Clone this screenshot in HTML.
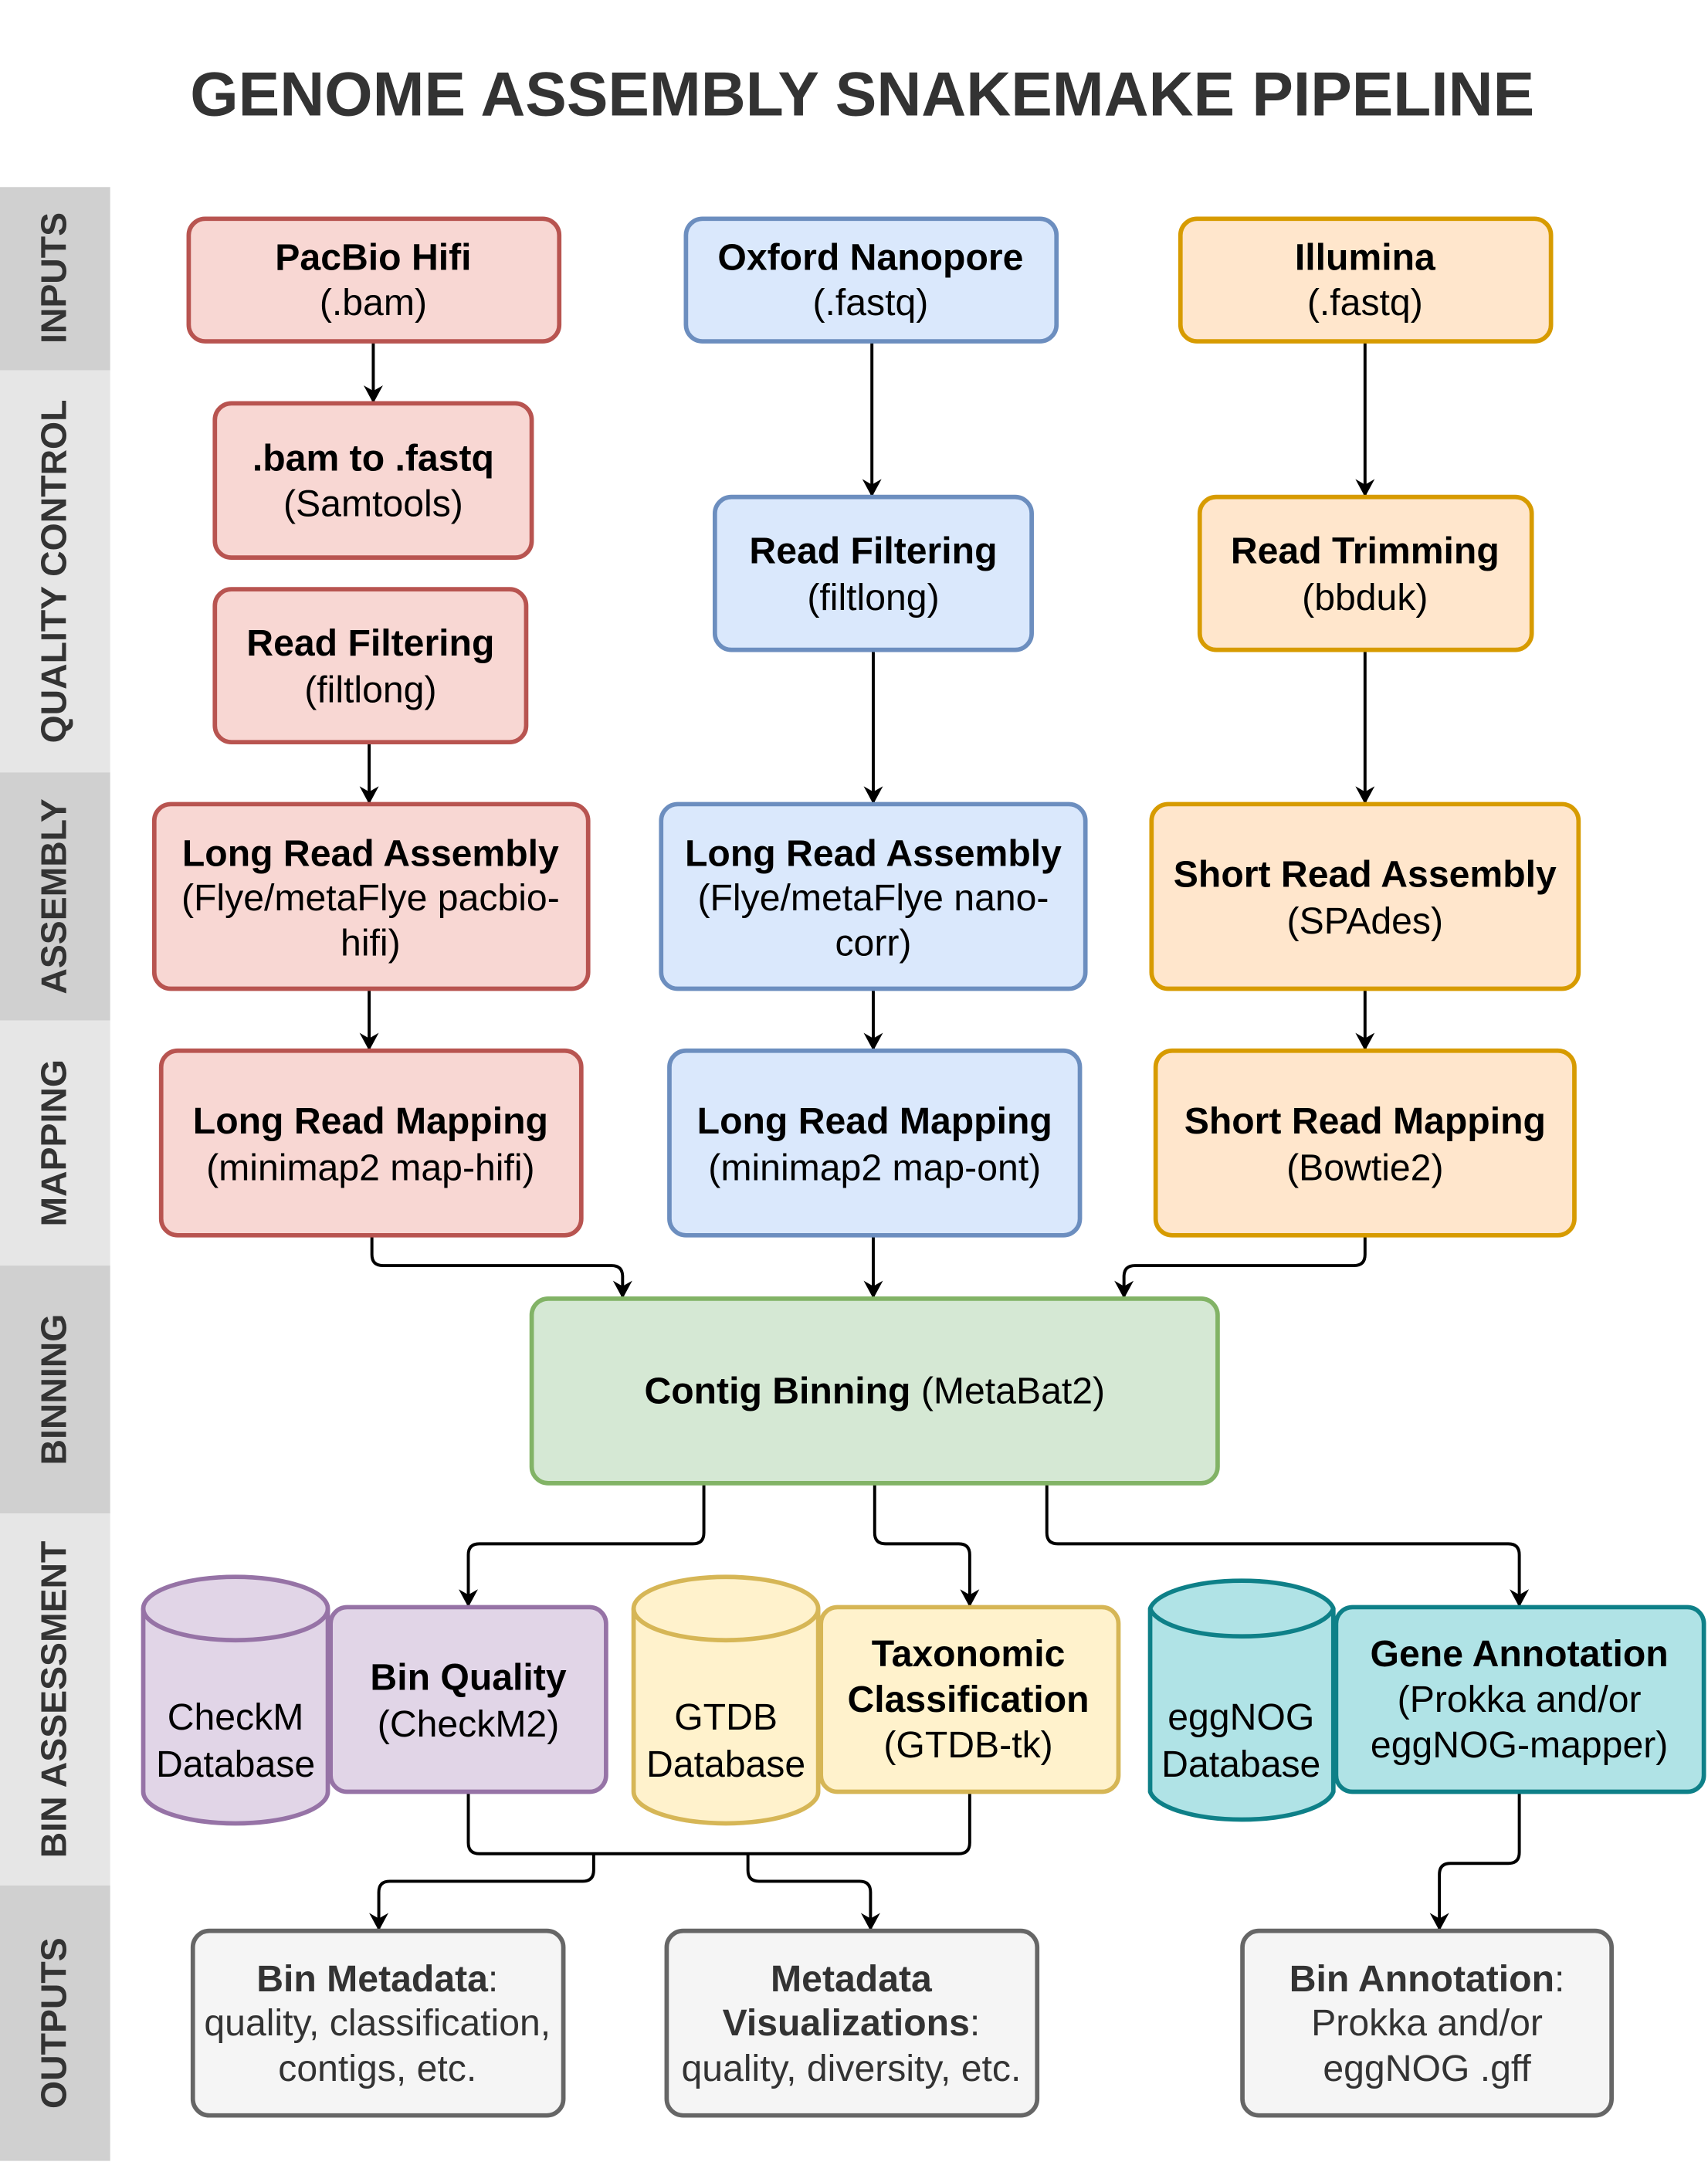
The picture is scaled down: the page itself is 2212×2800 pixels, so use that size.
<!DOCTYPE html>
<html><head><meta charset="utf-8"><style>
html,body{margin:0;padding:0;background:#fff;}
svg{display:block;}
text{font-family:"Liberation Sans",Arial,sans-serif;}
</style></head><body>
<svg width="2212" height="2800" viewBox="0 0 1240 1568" xmlns="http://www.w3.org/2000/svg">
<defs>
<marker id="ar" markerWidth="14" markerHeight="16" refX="12" refY="7" orient="auto" markerUnits="userSpaceOnUse">
<path d="M0,0 L13,7 L0,14 L4,7 Z" fill="#000"/>
</marker>
</defs>
<rect width="1240" height="1568" fill="#fff"/>
<text x="626" y="83" text-anchor="middle" font-size="45" font-weight="bold" fill="#333">GENOME ASSEMBLY SNAKEMAKE PIPELINE</text>

<rect x="0" y="135" width="80" height="133" fill="#d0d0d0"/>
<rect x="0" y="268" width="80" height="292" fill="#e6e6e6"/>
<rect x="0" y="560" width="80" height="180" fill="#d0d0d0"/>
<rect x="0" y="740" width="80" height="178" fill="#e6e6e6"/>
<rect x="0" y="918" width="80" height="180" fill="#d0d0d0"/>
<rect x="0" y="1098" width="80" height="270" fill="#e6e6e6"/>
<rect x="0" y="1368" width="80" height="200" fill="#d0d0d0"/>
<g font-size="26" font-weight="bold" fill="#333" text-anchor="middle">
<text transform="translate(48,201) rotate(-90)">INPUTS</text>
<text transform="translate(48,414) rotate(-90)">QUALITY CONTROL</text>
<text transform="translate(48,650) rotate(-90)">ASSEMBLY</text>
<text transform="translate(48,829) rotate(-90)">MAPPING</text>
<text transform="translate(48,1008) rotate(-90)">BINNING</text>
<text transform="translate(48,1233) rotate(-90)">BIN ASSESSMENT</text>
<text transform="translate(48,1468) rotate(-90)">OUTPUTS</text>
</g>

<g stroke="#000" stroke-width="2.2" fill="none" marker-end="url(#ar)">
<path d="M271 247 V291"/>
<path d="M633 247 V359"/>
<path d="M991 247 V359"/>
<path d="M268 538 V582"/>
<path d="M634 471 V582"/>
<path d="M991 471 V582"/>
<path d="M268 717 V761"/>
<path d="M634 717 V761"/>
<path d="M991 717 V761"/>
<path d="M270 896 V910 Q270 918 278 918 H444 Q452 918 452 926 V941"/>
<path d="M634 896 V941"/>
<path d="M991 896 V910 Q991 918 983 918 H824 Q816 918 816 926 V941"/>
<path d="M511 1076 V1112 Q511 1120 503 1120 H348 Q340 1120 340 1128 V1165"/>
<path d="M635 1076 V1112 Q635 1120 643 1120 H696 Q704 1120 704 1128 V1165"/>
<path d="M760 1076 V1112 Q760 1120 768 1120 H1095 Q1103 1120 1103 1128 V1165"/>
<path d="M431 1345 V1357 Q431 1365 423 1365 H283 Q275 1365 275 1373 V1400"/>
<path d="M543 1345 V1357 Q543 1365 551 1365 H624 Q632 1365 632 1373 V1400"/>
<path d="M1103 1300 V1344 Q1103 1352 1095 1352 H1053 Q1045 1352 1045 1360 V1400"/>
</g>
<path d="M340 1300 V1337 Q340 1345 348 1345 H696 Q704 1345 704 1337 V1300" stroke="#000" stroke-width="2.2" fill="none"/>

<g stroke-width="3.2">
<rect x="137" y="158" width="269" height="89" rx="12" fill="#f8d7d3" stroke="#b85450"/>
<rect x="498" y="158" width="269" height="89" rx="12" fill="#dae8fc" stroke="#6c8ebf"/>
<rect x="857" y="158" width="269" height="89" rx="12" fill="#ffe6cc" stroke="#d79b00"/>
<rect x="156" y="292" width="230" height="112" rx="12" fill="#f8d7d3" stroke="#b85450"/>
<rect x="156" y="427" width="226" height="111" rx="12" fill="#f8d7d3" stroke="#b85450"/>
<rect x="519" y="360" width="230" height="111" rx="12" fill="#dae8fc" stroke="#6c8ebf"/>
<rect x="871" y="360" width="241" height="111" rx="12" fill="#ffe6cc" stroke="#d79b00"/>
<rect x="112" y="583" width="315" height="134" rx="12" fill="#f8d7d3" stroke="#b85450"/>
<rect x="480" y="583" width="308" height="134" rx="12" fill="#dae8fc" stroke="#6c8ebf"/>
<rect x="836" y="583" width="310" height="134" rx="12" fill="#ffe6cc" stroke="#d79b00"/>
<rect x="117" y="762" width="305" height="134" rx="12" fill="#f8d7d3" stroke="#b85450"/>
<rect x="486" y="762" width="298" height="134" rx="12" fill="#dae8fc" stroke="#6c8ebf"/>
<rect x="839" y="762" width="304" height="134" rx="12" fill="#ffe6cc" stroke="#d79b00"/>
<rect x="386" y="942" width="498" height="134" rx="12" fill="#d5e8d4" stroke="#82b366"/>
<path d="M104 1167 A67 23 0 0 1 238 1167 V1300 A67 23 0 0 1 104 1300 Z" fill="#e1d5e7" stroke="#9673a6"/>
<path d="M104 1167 A67 23 0 0 0 238 1167" fill="none" stroke="#9673a6"/>
<rect x="240" y="1166" width="200" height="134" rx="12" fill="#e1d5e7" stroke="#9673a6"/>
<path d="M460 1167 A67 23 0 0 1 594 1167 V1300 A67 23 0 0 1 460 1300 Z" fill="#fff2cc" stroke="#d6b656"/>
<path d="M460 1167 A67 23 0 0 0 594 1167" fill="none" stroke="#d6b656"/>
<rect x="596" y="1166" width="216" height="134" rx="12" fill="#fff2cc" stroke="#d6b656"/>
<path d="M835 1167 A67 23 0 0 1 968 1167 V1300 A67 23 0 0 1 835 1300 Z" fill="#b0e3e6" stroke="#0e8088"/>
<path d="M835 1167 A67 23 0 0 0 968 1167" fill="none" stroke="#0e8088"/>
<rect x="970" y="1166" width="267" height="134" rx="12" fill="#b0e3e6" stroke="#0e8088"/>
<rect x="140" y="1401" width="269" height="134" rx="12" fill="#f5f5f5" stroke="#666"/>
<rect x="484" y="1401" width="269" height="134" rx="12" fill="#f5f5f5" stroke="#666"/>
<rect x="902" y="1401" width="268" height="134" rx="12" fill="#f5f5f5" stroke="#666"/>
</g>

<g font-size="27" text-anchor="middle" fill="#000">
<text x="271" y="195" font-weight="bold">PacBio Hifi</text><text x="271" y="228">(.bam)</text>
<text x="632" y="195" font-weight="bold">Oxford Nanopore</text><text x="632" y="228">(.fastq)</text>
<text x="991" y="195" font-weight="bold">Illumina</text><text x="991" y="228">(.fastq)</text>
<text x="271" y="341" font-weight="bold">.bam to .fastq</text><text x="271" y="374">(Samtools)</text>
<text x="269" y="475" font-weight="bold">Read Filtering</text><text x="269" y="509">(filtlong)</text>
<text x="634" y="408" font-weight="bold">Read Filtering</text><text x="634" y="442">(filtlong)</text>
<text x="991" y="408" font-weight="bold">Read Trimming</text><text x="991" y="442">(bbduk)</text>
<text x="269" y="628" font-weight="bold">Long Read Assembly</text><text x="269" y="660">(Flye/metaFlye pacbio-</text><text x="269" y="693">hifi)</text>
<text x="634" y="628" font-weight="bold">Long Read Assembly</text><text x="634" y="660">(Flye/metaFlye nano-</text><text x="634" y="693">corr)</text>
<text x="991" y="643" font-weight="bold">Short Read Assembly</text><text x="991" y="677">(SPAdes)</text>
<text x="269" y="822" font-weight="bold">Long Read Mapping</text><text x="269" y="856">(minimap2 map-hifi)</text>
<text x="635" y="822" font-weight="bold">Long Read Mapping</text><text x="635" y="856">(minimap2 map-ont)</text>
<text x="991" y="822" font-weight="bold">Short Read Mapping</text><text x="991" y="856">(Bowtie2)</text>
<text x="635" y="1018"><tspan font-weight="bold">Contig Binning</tspan> (MetaBat2)</text>
<text x="171" y="1255">CheckM</text><text x="171" y="1289">Database</text>
<text x="340" y="1226" font-weight="bold">Bin Quality</text><text x="340" y="1260">(CheckM2)</text>
<text x="527" y="1255">GTDB</text><text x="527" y="1289">Database</text>
<text x="703" y="1209" font-weight="bold">Taxonomic</text><text x="703" y="1242" font-weight="bold">Classification</text><text x="703" y="1275">(GTDB-tk)</text>
<text x="901" y="1255">eggNOG</text><text x="901" y="1289">Database</text>
<text x="1103" y="1209" font-weight="bold">Gene Annotation</text><text x="1103" y="1242">(Prokka and/or</text><text x="1103" y="1275">eggNOG-mapper)</text>
<g fill="#333">
<text x="274" y="1445"><tspan font-weight="bold">Bin Metadata</tspan>:</text><text x="274" y="1477">quality, classification,</text><text x="274" y="1510">contigs, etc.</text>
<text x="618" y="1445" font-weight="bold">Metadata</text><text x="618" y="1477"><tspan font-weight="bold">Visualizations</tspan>:</text><text x="618" y="1510">quality, diversity, etc.</text>
<text x="1036" y="1445"><tspan font-weight="bold">Bin Annotation</tspan>:</text><text x="1036" y="1477">Prokka and/or</text><text x="1036" y="1510">eggNOG .gff</text>
</g>
</g>
</svg>
</body></html>
